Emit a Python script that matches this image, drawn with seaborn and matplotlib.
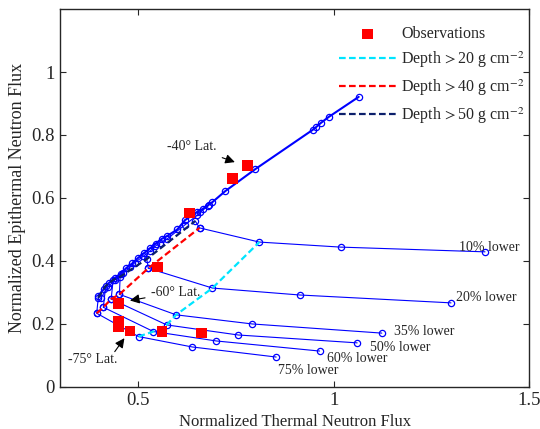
import matplotlib
matplotlib.use("Agg")
import matplotlib.pyplot as plt
import seaborn as sns

# main curve (no hydrogen), all latitudes
main_x = [0.398, 0.412, 0.425, 0.44, 0.455, 0.47, 0.485, 0.50, 0.515, 0.53, 0.545,
          0.56, 0.575, 0.60, 0.62, 0.65, 0.665, 0.68, 0.69, 0.723, 0.80, 0.946,
          0.955, 0.967, 0.987, 1.064]
main_y = [0.29, 0.31, 0.33, 0.345, 0.36, 0.378, 0.392, 0.41, 0.425, 0.44, 0.455,
          0.47, 0.48, 0.50, 0.53, 0.555, 0.565, 0.578, 0.587, 0.622, 0.692, 0.816,
          0.825, 0.838, 0.857, 0.921]

# second row just under the main curve
mid_x = [0.405, 0.423, 0.441, 0.462, 0.479, 0.492, 0.513, 0.531, 0.544, 0.556, 0.574, 0.62, 0.651, 0.659, 0.679]
mid_y = [0.283, 0.318, 0.34, 0.362, 0.38, 0.395, 0.415, 0.432, 0.447, 0.458, 0.47, 0.515, 0.545, 0.555, 0.575]

# depth rows
navy_x = [0.398, 0.417, 0.436, 0.454, 0.522, 0.646]
navy_y = [0.283, 0.321, 0.34, 0.35, 0.406, 0.527]
red_x = [0.394, 0.411, 0.431, 0.452, 0.526, 0.657]
red_y = [0.234, 0.253, 0.279, 0.294, 0.377, 0.505]
cyan_x = [0.501, 0.539, 0.573, 0.597, 0.69, 0.81]
cyan_y = [0.16, 0.176, 0.197, 0.229, 0.314, 0.46]

# hydrogen fans: start (red row), cyan point, middle, end
fan_labels = ["75% lower", "60% lower", "50% lower", "35% lower", "20% lower", "10% lower"]
fan_mid_x = [0.638, 0.70, 0.756, 0.792, 0.913, 1.018]
fan_mid_y = [0.127, 0.146, 0.165, 0.20, 0.292, 0.444]
fan_end_x = [0.853, 0.964, 1.06, 1.123, 1.30, 1.387]
fan_end_y = [0.095, 0.114, 0.14, 0.171, 0.267, 0.429]

obs_x = [0.779, 0.741, 0.631, 0.549, 0.449, 0.449, 0.449, 0.479, 0.561, 0.662]
obs_y = [0.702, 0.662, 0.552, 0.381, 0.264, 0.207, 0.19, 0.178, 0.175, 0.171]

sns.set_style("ticks")
plt.rcParams["font.family"] = ["Liberation Serif", "DejaVu Serif"]
plt.rcParams["mathtext.fontset"] = "stix"

fig = plt.figure(figsize=(5.4, 4.29), dpi=100)
ax = fig.add_axes([0.111, 0.098, 0.869, 0.881])

blue = "#0000ff"
circ = dict(marker="o", markersize=4.5, markerfacecolor="none",
            markeredgecolor=blue, markeredgewidth=0.9)

# fans
for i in range(len(fan_labels)):
    fx = [red_x[i], cyan_x[i], fan_mid_x[i], fan_end_x[i]]
    fy = [red_y[i], cyan_y[i], fan_mid_y[i], fan_end_y[i]]
    sns.lineplot(x=fx, y=fy, sort=False, estimator=None, color=blue, lw=0.8, ax=ax, **circ)

# connectors between rows
for i in range(len(red_x)):
    sns.lineplot(x=[red_x[i], navy_x[i]], y=[red_y[i], navy_y[i]], sort=False,
                 estimator=None, color=blue, lw=0.8, ax=ax, **circ)

sns.lineplot(x=mid_x, y=mid_y, sort=False, estimator=None, color=blue, lw=0.8, ax=ax, **circ)
sns.lineplot(x=main_x, y=main_y, sort=False, estimator=None, color=blue, lw=1.5, ax=ax, **circ)

dash = (0, (3, 1.5))
sns.lineplot(x=cyan_x, y=cyan_y, sort=False, estimator=None, color="#00e5ff", lw=1.6,
             ls=dash, ax=ax, label="Depth$\\,>$20 g cm$^{-2}$")
sns.lineplot(x=red_x, y=red_y, sort=False, estimator=None, color="#ff0000", lw=1.6,
             ls=dash, ax=ax, label="Depth$\\,>$40 g cm$^{-2}$")
sns.lineplot(x=navy_x, y=navy_y, sort=False, estimator=None, color="#0b1f6b", lw=1.6,
             ls=dash, ax=ax, label="Depth$\\,>$50 g cm$^{-2}$")

sns.scatterplot(x=obs_x, y=obs_y, marker="s", s=60, color="#ff0000", edgecolor="none",
                ax=ax, label="Observations", zorder=5)

# labels on the fans
lab_x = [0.857, 0.982, 1.092, 1.154, 1.313, 1.32]
lab_y = [0.051, 0.089, 0.124, 0.175, 0.283, 0.444]
for t, lx, ly in zip(fan_labels, lab_x, lab_y):
    ax.text(lx, ly, t, fontsize=10, va="center", ha="left")

arrow = dict(arrowstyle="-|>", color="black", lw=0.8, mutation_scale=14)
ax.annotate("-40\u00b0 Lat.", xy=(0.754, 0.711), xytext=(0.574, 0.762),
            fontsize=10, va="center", arrowprops=arrow)
ax.annotate("-60\u00b0 Lat.", xy=(0.472, 0.273), xytext=(0.533, 0.30),
            fontsize=10, va="center", arrowprops=arrow)
ax.annotate("", xy=(0.469, 0.162), xytext=(0.436, 0.105), arrowprops=arrow)
ax.text(0.32, 0.086, "-75\u00b0 Lat.", fontsize=10, va="center")

ax.set_xlim(0.3, 1.5)
ax.set_ylim(0, 1.2)
ax.set_xticks([0.5, 1, 1.5])
ax.set_xticklabels(["0.5", "1", "1.5"])
ax.set_yticks([0, 0.2, 0.4, 0.6, 0.8, 1])
ax.set_yticklabels(["0", "0.2", "0.4", "0.6", "0.8", "1"])
ax.tick_params(direction="in", top=True, right=True, labelsize=13.5, length=4)
for s in ax.spines.values():
    s.set_linewidth(1.0)
ax.set_xlabel("Normalized Thermal Neutron Flux", fontsize=12)
ax.set_ylabel("Normalized Epithermal Neutron Flux", fontsize=13)

h, l = ax.get_legend_handles_labels()
order = [3, 0, 1, 2]
ax.legend([h[i] for i in order], [l[i] for i in order], loc="upper right",
          bbox_to_anchor=(1.01, 0.98), frameon=False, fontsize=11.5, handlelength=3.6,
          labelspacing=0.45, handletextpad=0.3, borderaxespad=0.2)

fig.savefig("out.png", dpi=100)
